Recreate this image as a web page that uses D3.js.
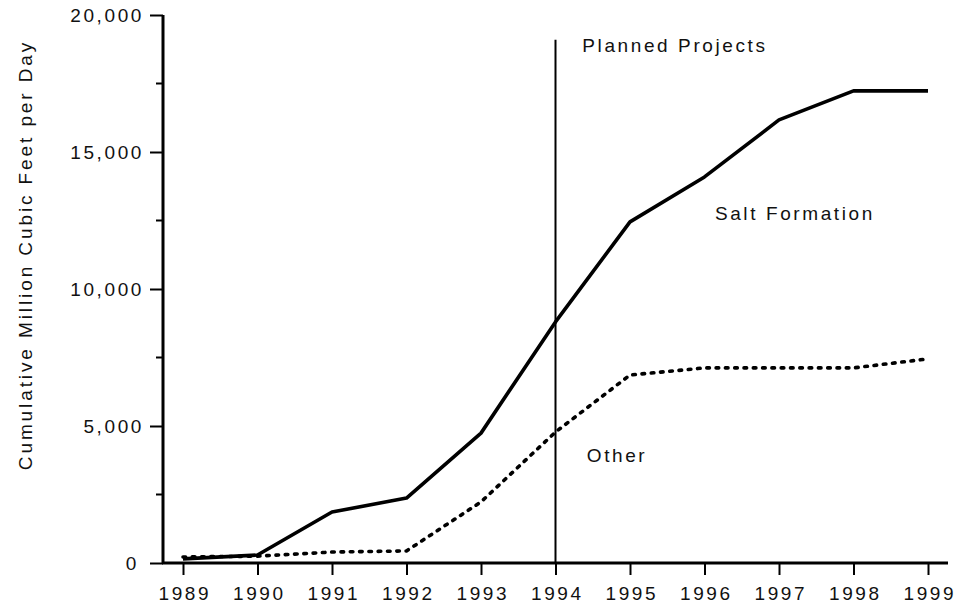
<!DOCTYPE html>
<html lang="en">
<head>
    <meta charset="UTF-8">
    <title>Cumulative Storage Capacity</title>
    <style>
        body{ margin:0; background:#fff; }
        svg{ display:block; }
        text{ font-family:"Liberation Sans", Arial, sans-serif; font-size:19px; letter-spacing:2.6px; fill:#111; }
        .ytitle{ letter-spacing:2.9px; }
        .axis path, .axis line{ stroke:#000; }
    </style>
    <script src="https://cdn.jsdelivr.net/npm/d3@7"></script>
</head>
<body>
    <script>
        // data
        const years=[1989,1990,1991,1992,1993,1994,1995,1996,1997,1998,1999];
        const saltFormation=[150,290,1860,2370,4740,8800,12450,14090,16170,17230,17230];
        const other=[220,250,400,440,2230,4780,6860,7120,7120,7120,7450];
        const yTicksMajor=[0,5000,10000,15000,20000];
        const yTicksMinor=[2500,7500,12500,17500];
        const plannedYear=1994;
        const plannedTop=19100;
        const labels=[
            {text:"Planned Projects",x:1994.36,y:18650},
            {text:"Salt Formation",x:1996.14,y:12520},
            {text:"Other",x:1994.42,y:3690}
        ];

        const width=956, height=605;
        const svg=d3.select("body").append("svg")
            .attr("width",width).attr("height",height);

        const xScale=d3.scaleLinear().domain([1989,1999]).range([183,928]);
        const yScale=d3.scaleLinear().domain([0,20000]).range([563,15]);
        const axisLeft=163, axisRight=948;

        //y axis: major and minor ticks
        const yAxis=d3.axisLeft(yScale)
            .tickValues(yTicksMajor)
            .tickSize(13).tickPadding(9)
            .tickFormat(d3.format(","));
        const gy=svg.append("g").attr("class","axis")
            .attr("transform",`translate(${axisLeft},0)`)
            .call(yAxis);
        gy.select(".domain").remove();
        gy.selectAll("line").attr("stroke-width",2);
        gy.selectAll("text").attr("dx",d=>d===0?"-2px":"3px");
        gy.selectAll(".minor").data(yTicksMinor).enter()
            .append("line").attr("class","minor")
            .attr("x1",-7).attr("x2",0)
            .attr("y1",d=>yScale(d)).attr("y2",d=>yScale(d))
            .attr("stroke","#000").attr("stroke-width",2);
        gy.append("line")
            .attr("x1",0).attr("x2",0)
            .attr("y1",yScale(20000)).attr("y2",yScale(0)+1)
            .attr("stroke","#000").attr("stroke-width",3);

        //x axis
        const xAxis=d3.axisBottom(xScale)
            .tickValues(years)
            .tickSize(12).tickPadding(12)
            .tickFormat(d3.format("d"));
        const gx=svg.append("g").attr("class","axis")
            .attr("transform",`translate(0,${yScale(0)})`)
            .call(xAxis);
        gx.select(".domain").remove();
        gx.selectAll("line").attr("stroke-width",2);
        gx.selectAll("text").attr("dx","1.3px");
        gx.append("line")
            .attr("x1",axisLeft-1).attr("x2",axisRight)
            .attr("y1",0).attr("y2",0)
            .attr("stroke","#000").attr("stroke-width",3);

        //planned projects divider
        svg.append("line")
            .attr("x1",xScale(plannedYear)).attr("x2",xScale(plannedYear))
            .attr("y1",yScale(plannedTop)).attr("y2",yScale(0))
            .attr("stroke","#000").attr("stroke-width",2);

        //lines
        const lineGen=d3.line()
            .x((d,i)=>xScale(years[i]))
            .y(d=>yScale(d));
        svg.append("path")
            .datum(other)
            .attr("d",lineGen)
            .attr("fill","none").attr("stroke","#000")
            .attr("stroke-width",3.6)
            .attr("stroke-linecap","round")
            .attr("stroke-dasharray","2.6,6.7");
        svg.append("path")
            .datum(saltFormation)
            .attr("d",lineGen)
            .attr("fill","none").attr("stroke","#000")
            .attr("stroke-width",3.6)
            .attr("stroke-linejoin","round");

        //annotations
        svg.selectAll(".note").data(labels).enter()
            .append("text").attr("class","note")
            .attr("x",d=>xScale(d.x)).attr("y",d=>yScale(d.y))
            .text(d=>d.text);

        //y axis title
        svg.append("text").attr("class","ytitle")
            .attr("transform","translate(32,255) rotate(-90)")
            .style("text-anchor","middle")
            .text("Cumulative Million Cubic Feet per Day");
    </script>
</body>
</html>
